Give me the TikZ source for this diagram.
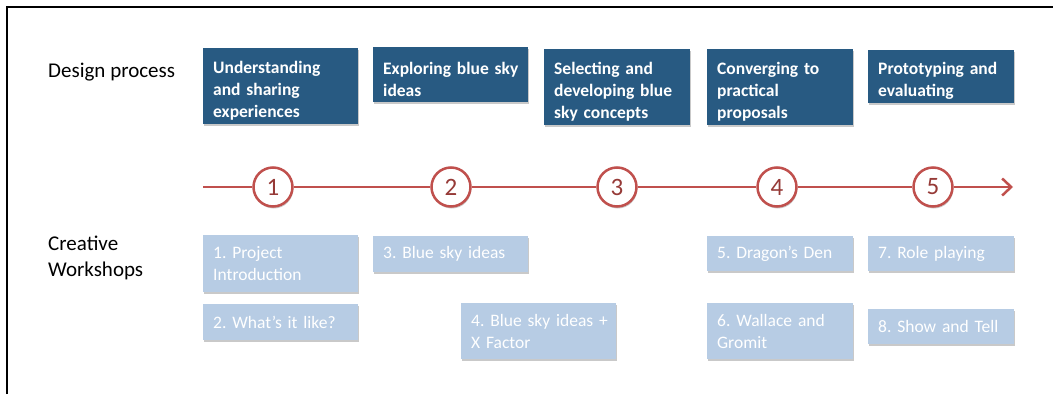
\documentclass[tikz,border=0pt]{standalone}
\usepackage{fontspec}
\setmainfont{Carlito}
\usetikzlibrary{arrows.meta, positioning, shadows}

\definecolor{procblue}{RGB}{40,90,130}
\definecolor{wsblue}{RGB}{183,204,228}
\definecolor{stepred}{RGB}{192,80,77}
\definecolor{numred}{RGB}{150,58,55}

\frenchspacing

\begin{document}
\begin{tikzpicture}[
        x=1pt, y=-1pt,
        boxshadow/.style={drop shadow={shadow xshift=0.8pt, shadow yshift=-2pt, opacity=0.3, fill=black!70}},
        stage/.style={fill=procblue, text=white, font=\fontsize{17.5}{22}\selectfont\bfseries, align=left, anchor=north west, inner xsep=10pt, inner ysep=0pt, boxshadow, execute at begin node={\rule{0pt}{21pt}}},
        workshop/.style={fill=wsblue, text=white, font=\fontsize{17.5}{22}\selectfont, align=left, anchor=north west, inner xsep=10pt, inner ysep=0pt, boxshadow},
        wide/.style={text width=135pt},
        narrow/.style={text width=126pt},
        lbl/.style={font=\fontsize{21}{26}\selectfont, align=left, inner sep=0pt},
        stagenum/.style={circle, draw=stepred, line width=2.5pt, fill=white, minimum size=39pt, inner sep=0pt, text=numred, font=\fontsize{25}{25}\selectfont, boxshadow},
        tline/.style={draw=stepred, line width=2.5pt}
    ]

    \useasboundingbox (0,0) rectangle (1053,394);

    % Frame
    \draw[line width=2.5pt] (7,394) -- (7,7) -- (1053,7);

    % Row labels
    \node[lbl, anchor=base west] (design) at (48,77) {Design process};
    \node[lbl, anchor=north west] (creative) at (48,236) {Creative\\Workshops};

    % Design process stages
    \node[stage, wide, minimum height=76pt] (under) at (203,48) {Understanding\\and sharing\\experiences};
    \node[stage, wide, minimum height=55pt] (explore) at (373,47) {\mbox{Exploring blue sky}\\ideas};
    \node[stage, narrow, minimum height=76pt] (select) at (544,49) {Selecting and\\developing blue\\sky concepts};
    \node[stage, narrow, minimum height=76pt] (converge) at (707,49) {Converging to\\practical\\proposals};
    \node[stage, narrow, minimum height=53pt] (proto) at (868,50) {Prototyping and\\evaluating};

    % Timeline
    \coordinate (tstart) at (203,187);
    \coordinate (tend) at (1013,187);
    \foreach \n/\x in {1/273, 2/451, 3/617, 4/777, 5/933}
        \node[stagenum] (s\n) at (\x,187) {\n};
    \draw[tline] (tstart) -- (s1);
    \foreach \a/\b in {1/2, 2/3, 3/4, 4/5}
        \draw[tline] (s\a) -- (s\b);
    \draw[tline, -{Straight Barb[length=9pt, width=17pt]}] (s5) -- (tend);

    % Creative workshops
    \node[workshop, wide, minimum height=57pt] (ws1) at (203,235) {1. Project\\Introduction};
    \node[workshop, wide, minimum height=36pt] (ws2) at (203,304) {2. What’s it like?};
    \node[workshop, wide, minimum height=36pt] (ws3) at (373,236) {3. Blue sky ideas};
    \node[workshop, wide, minimum height=56pt] (ws4) at (461,303) {\mbox{4. Blue sky ideas +}\\X Factor};
    \node[workshop, narrow, minimum height=35pt] (ws5) at (707,236) {5. Dragon’s Den};
    \node[workshop, narrow, minimum height=56pt] (ws6) at (707,303) {6. Wallace and\\Gromit};
    \node[workshop, narrow, minimum height=35pt] (ws7) at (868,236) {7. Role playing};
    \node[workshop, narrow, minimum height=35pt] (ws8) at (868,309) {8. Show and Tell};

\end{tikzpicture}
\end{document}
